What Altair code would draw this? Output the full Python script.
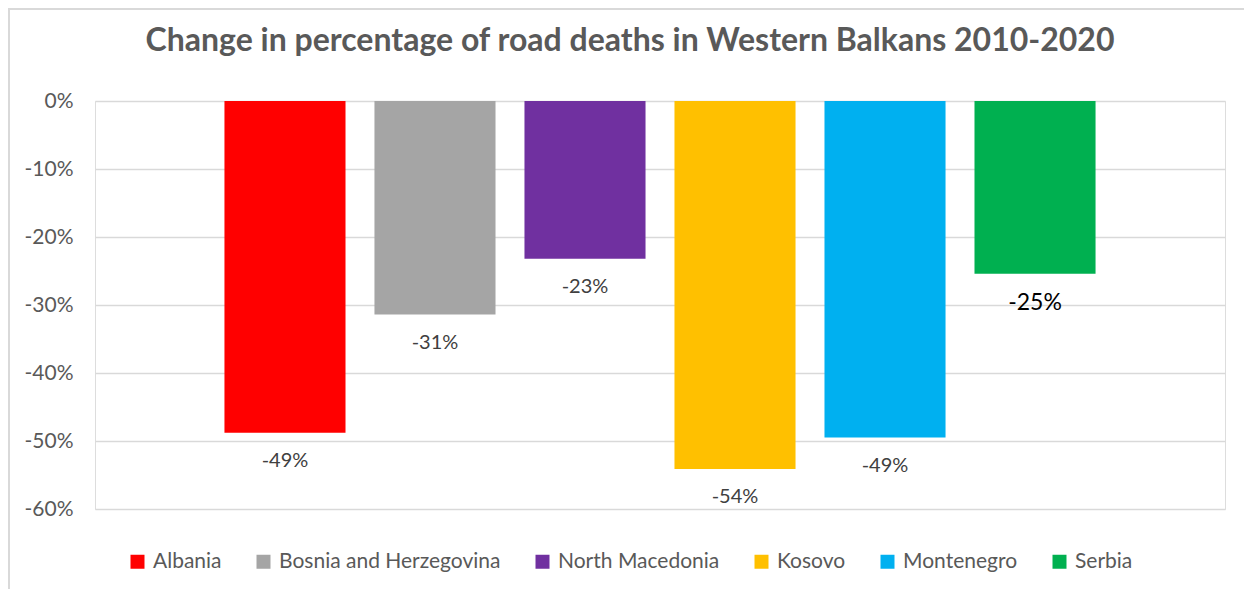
import altair as alt
import pandas as pd

countries = ["Albania", "Bosnia and Herzegovina", "North Macedonia", "Kosovo", "Montenegro", "Serbia"]
changes = [-0.488, -0.314, -0.232, -0.541, -0.4949, -0.254]
colors = ["#FF0000", "#A5A5A5", "#7030A0", "#FFC000", "#00B0F0", "#00B050"]
y_ticks = [0, -0.1, -0.2, -0.3, -0.4, -0.5, -0.6]
title_text = "Change in percentage of road deaths in Western Balkans 2010-2020"

df = pd.DataFrame({"country": countries, "change": changes})

FONT = "Lato"
GREY = "#595959"

x_enc = alt.X("country:N", sort=countries, axis=None,
              scale=alt.Scale(paddingInner=0.193, paddingOuter=0.863))
y_scale = alt.Scale(domain=[-0.6, 0], nice=False)

bars = alt.Chart(df).mark_bar(cornerRadius=0).encode(
    x=x_enc,
    y=alt.Y("change:Q", scale=y_scale,
            axis=alt.Axis(values=y_ticks, format=".0%", title=None, domain=False, ticks=False,
                          labelExpr="replace(datum.label, '\u2212', '-')",
                          labelFont=FONT, labelFontSize=21, labelColor=GREY, labelPadding=22,
                          grid=True, gridColor="#d9d9d9", gridWidth=1.5)),
    y2=alt.datum(0),
    color=alt.Color("country:N", sort=countries,
                    scale=alt.Scale(domain=countries, range=colors),
                    legend=alt.Legend(title=None, orient="none", direction="horizontal",
                                      legendX=32, legendY=450, columns=6, columnPadding=31,
                                      symbolType="square", symbolSize=196, symbolStrokeWidth=0,
                                      labelFont=FONT, labelFontSize=21, labelColor=GREY,
                                      labelOffset=5, labelLimit=400)),
)

labels = alt.Chart(df).transform_calculate(
    lbl="replace(format(datum.change, '.0%'), '\u2212', '-')"
).mark_text(baseline="top", dy=18, font=FONT).encode(
    x=x_enc,
    y=alt.Y("change:Q", scale=y_scale),
    text=alt.Text("lbl:N"),
    color=alt.condition(alt.datum.country == "Serbia", alt.value("#000000"), alt.value("#404040")),
    size=alt.condition(alt.datum.country == "Serbia", alt.value(23), alt.value(20)),
)

title = alt.Chart(pd.DataFrame({"t": [title_text]})).mark_text(
    font=FONT, fontSize=32, fontWeight="bold", color=GREY, baseline="alphabetic", align="center"
).encode(text="t:N", x=alt.value(535), y=alt.value(-50))

border_top = alt.Chart(df).mark_rule(color="#d9d9d9", strokeWidth=1.5).encode(
    x=alt.value(-87), x2=alt.value(1149), y=alt.value(-92))
border_left = alt.Chart(df).mark_rule(color="#d9d9d9", strokeWidth=1.5).encode(
    x=alt.value(-86), y=alt.value(-93), y2=alt.value(488))

chart = alt.layer(border_top, border_left, bars, labels, title).properties(
    width=1130, height=408,
    autosize=alt.AutoSizeParams(type="none"),
    padding={"left": 87, "top": 93, "right": 19, "bottom": 80},
).configure_view(stroke=None).configure(background="white")

chart.save("out.html", embed_options={"renderer": "svg", "actions": False})
